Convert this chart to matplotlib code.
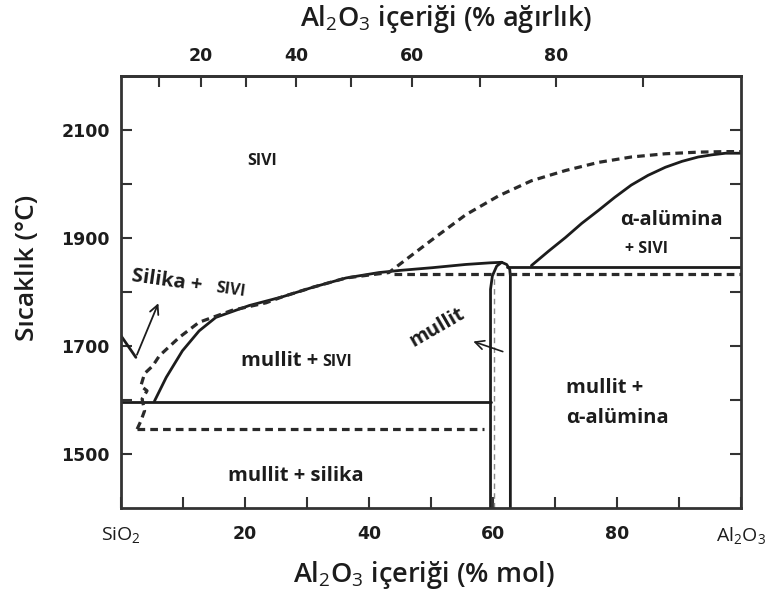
import numpy as np
import matplotlib.pyplot as plt

plt.rcParams['font.family'] = ['Open Sans', 'DejaVu Sans']
plt.rcParams['mathtext.fontset'] = 'custom'
plt.rcParams['mathtext.rm'] = 'Open Sans'
plt.rcParams['mathtext.it'] = 'Open Sans'
plt.rcParams['mathtext.bf'] = 'Open Sans:bold'

INK = '#1c1c1c'

# SiO2 liquidus (short solid piece at the silica end)
sio2_liq_x = [0, 2.4]
sio2_liq_y = [1719, 1679]

# mullite liquidus (solid)
mul_liq_x = [5.4, 7.3, 9.9, 12.6, 15.3, 20.7, 26.0, 31.0, 36.3, 41.6, 45.0, 50.2, 55.6, 59.5, 61.4]
mul_liq_y = [1598, 1642, 1691, 1728, 1753, 1775, 1791, 1809, 1826, 1836, 1840, 1845, 1851, 1854, 1855]

# mullite solid solution boundaries
mul_left_x = [61.4, 60.6, 59.9, 59.6, 59.6]
mul_left_y = [1855, 1848, 1830, 1805, 1400]
mul_right_x = [61.4, 62.2, 62.7, 62.8, 62.8]
mul_right_y = [1855, 1851, 1842, 1830, 1400]

# alpha-alumina liquidus (solid)
alu_liq_x = [66.2, 69.0, 71.7, 74.3, 77.0, 79.6, 82.3, 85.0, 87.8, 90.5, 93.1, 95.3, 97.5, 100]
alu_liq_y = [1849, 1876, 1901, 1927, 1951, 1975, 1998, 2016, 2031, 2042, 2050, 2054, 2057, 2057]

# horizontal invariants (solid)
eut_x = [0, 59.6]
eut_y = [1597, 1597]
per_x = [62.2, 100]
per_y = [1847, 1847]

# metastable liquidus (dashed)
meta_liq_x = [2.6, 3.2, 3.8, 3.4, 4.2, 3.2, 3.8, 5.1, 6.2, 9.4, 12.6, 17.9, 23.4, 26.0,
              31.0, 36.3, 43.2, 50.2, 55.6, 60.9, 66.2, 71.7, 77.0, 82.3, 87.8, 93.1, 97.5, 100]
meta_liq_y = [1546, 1561, 1580, 1602, 1617, 1626, 1649, 1663, 1682, 1716, 1744, 1766, 1780, 1791,
              1809, 1826, 1836, 1897, 1943, 1978, 2006, 2025, 2040, 2050, 2056, 2059, 2060, 2060]

# metastable invariants (dashed)
meta_eut_x = [2.6, 58.5]
meta_eut_y = [1546, 1546]
meta_per_x = [44.0, 100]
meta_per_y = [1833, 1833]

mol_ticks = [10, 20, 30, 40, 50, 60, 70, 80, 90]
mol_labels = ['', '20', '', '40', '', '60', '', '80', '']
wt_ticks = [10, 20, 30, 40, 50, 60, 70, 80, 90]
wt_labels = ['', '20', '', '40', '', '60', '', '80', '']
temp_ticks = [1500, 1600, 1700, 1800, 1900, 2000, 2100]
temp_labels = ['1500', '', '1700', '', '1900', '', '2100']

M_AL = 101.96
M_SI = 60.08


def mol_to_wt(x):
    x = np.clip(np.asarray(x, dtype=float), 0, 100)
    a = x * M_AL
    b = (100 - x) * M_SI
    return 100 * a / np.maximum(a + b, 1e-9)


def wt_to_mol(w):
    w = np.clip(np.asarray(w, dtype=float), 0, 100)
    a = w / M_AL
    b = (100 - w) / M_SI
    return 100 * a / np.maximum(a + b, 1e-9)


fig = plt.figure(figsize=(7.75, 5.98), dpi=100)
ax = fig.add_axes([121 / 775, 90 / 598, 620 / 775, 432 / 598])

solid = dict(color=INK, lw=2.0, solid_capstyle='round')
dashed = dict(color='#2a2a2a', lw=2.3, linestyle=(0, (2.4, 1.6)))

ax.plot(sio2_liq_x, sio2_liq_y, **solid)
ax.plot(mul_liq_x, mul_liq_y, **solid)
ax.plot(mul_left_x, mul_left_y, **solid)
ax.plot(mul_right_x, mul_right_y, **solid)
ax.plot(alu_liq_x, alu_liq_y, **solid)
ax.plot(eut_x, eut_y, **solid)
ax.plot(per_x, per_y, **solid)
ax.plot([60.2, 60.2], [1400, 1833], color='#888888', lw=1.0, linestyle=(0, (4, 3)))

ax.plot(meta_liq_x, meta_liq_y, **dashed)
ax.plot(meta_eut_x, meta_eut_y, **dashed)
ax.plot(meta_per_x, meta_per_y, **dashed)

# arrows
ax.annotate('', xy=(6.2, 1784), xytext=(2.4, 1679),
            arrowprops=dict(arrowstyle='->', color=INK, lw=1.3, mutation_scale=16))
ax.annotate('', xy=(56.4, 1710), xytext=(62.0, 1688),
            arrowprops=dict(arrowstyle='->', color=INK, lw=1.2, mutation_scale=16))

# region labels
BIG = 14.5
SM = 11.5
ax.text(22.7, 2043, 'SIVI', fontsize=SM, fontweight='bold', color=INK, ha='center', va='center')
ax.text(7.4, 1821, 'Silika +', rotation=-8, fontsize=BIG, fontweight='bold',
        color=INK, ha='center', va='center')
ax.text(17.6, 1804, 'SIVI', rotation=-8, fontsize=SM, fontweight='bold',
        color=INK, ha='center', va='center')
ax.text(31.8, 1673, 'mullit +', fontsize=BIG, fontweight='bold', color=INK, ha='right', va='center')
ax.text(32.5, 1671, 'SIVI', fontsize=SM, fontweight='bold', color=INK, ha='left', va='center')
ax.text(51.0, 1734, 'mullit', rotation=30, fontsize=BIG, fontweight='bold', color=INK,
        ha='center', va='center')
ax.text(88.7, 1933, 'α-alümina', fontsize=BIG, fontweight='bold', color=INK, ha='center', va='center')
ax.text(84.8, 1879, '+ SIVI', fontsize=SM, fontweight='bold', color=INK, ha='center', va='center')
ax.text(71.8, 1623, 'mullit +', fontsize=BIG, fontweight='bold', color=INK, ha='left', va='center')
ax.text(71.8, 1567, 'α-alümina', fontsize=BIG, fontweight='bold', color=INK, ha='left', va='center')
ax.text(28.2, 1459, 'mullit + silika', fontsize=BIG, fontweight='bold', color=INK,
        ha='center', va='center')

ax.set_xlim(0, 100)
ax.set_ylim(1400, 2200)

ax.set_xticks([0] + mol_ticks + [100])
ax.set_xticklabels(['SiO$_2$'] + mol_labels + ['Al$_2$O$_3$'])
ax.set_yticks(temp_ticks)
ax.set_yticklabels(temp_labels)
ax.tick_params(axis='both', direction='in', length=8, width=1.5, color='#333333',
               labelsize=12.5, labelcolor=INK)
ax.tick_params(axis='x', pad=12)
ax.tick_params(axis='y', pad=8, right=True)
for lbl in ax.get_xticklabels() + ax.get_yticklabels():
    lbl.set_family(['DejaVu Sans'])
    lbl.set_fontweight('bold')
xl = ax.get_xticklabels()
for i in (0, len(xl) - 1):
    xl[i].set_fontweight('normal')
    xl[i].set_family(['Open Sans', 'DejaVu Sans'])
    xl[i].set_fontsize(14)

for s in ax.spines.values():
    s.set_linewidth(2.0)
    s.set_color('#333333')

top = ax.secondary_xaxis('top', functions=(mol_to_wt, wt_to_mol))
top.set_xticks(wt_ticks)
top.set_xticklabels(wt_labels)
top.tick_params(direction='in', length=8, width=1.5, color='#333333', pad=8,
                labelsize=12.5, labelcolor=INK)
for lbl in top.get_xticklabels():
    lbl.set_family(['DejaVu Sans'])
    lbl.set_fontweight('bold')
top.spines['top'].set_linewidth(2.0)
top.spines['top'].set_color('#333333')

ax.set_xlabel('Al$_2$O$_3$ içeriği (% mol)', fontsize=19.5, fontweight='semibold', color=INK, va='center')
ax.xaxis.set_label_coords(0.489, -0.155)
fig.text(446 / 775, 1 - 19 / 598, 'Al$_2$O$_3$ içeriği (% ağırlık)', fontsize=19.5,
         fontweight='semibold', color=INK, ha='center', va='center')
ax.set_ylabel('Sıcaklık (°C)', fontsize=19, fontweight='semibold', color=INK, va='center')
ax.yaxis.set_label_coords(-0.150, 0.556)

fig.savefig('out.png', dpi=100)
